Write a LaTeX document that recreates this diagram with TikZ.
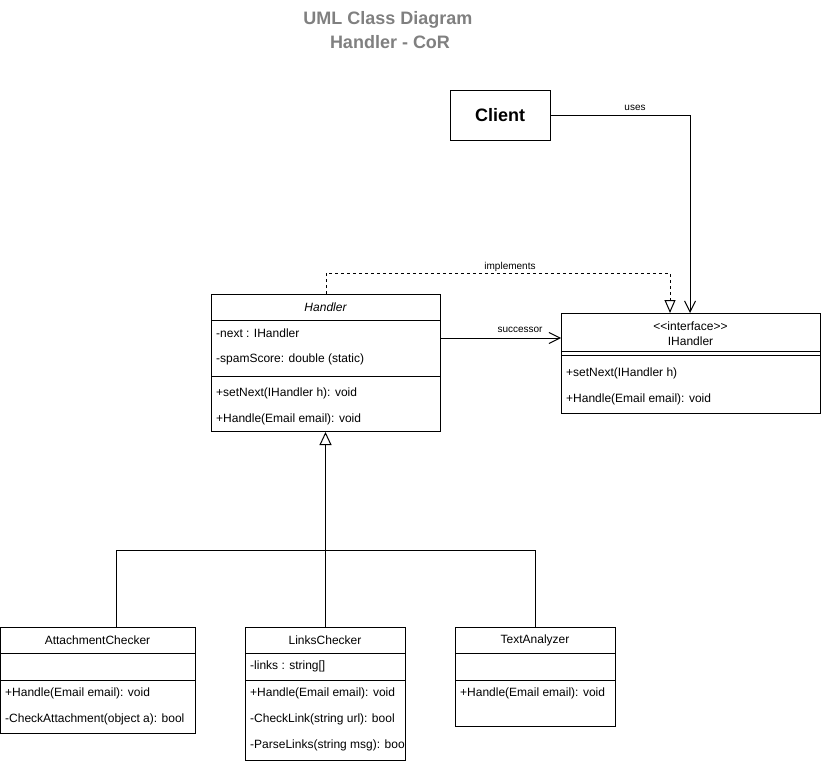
\documentclass[tikz,border=0pt]{standalone}
\usepackage{fontspec}
\setmainfont{Liberation Sans}
\usetikzlibrary{arrows.meta}
\definecolor{titlegray}{RGB}{128,128,128}
\begin{document}
\begin{tikzpicture}[x=1pt,y=-1pt,
  box/.style={draw=black, line width=1pt, fill=white, inner sep=0pt, anchor=north west},
  sepline/.style={draw=black, line width=1pt},
  member/.style={font=\fontsize{12}{14}\selectfont, anchor=west, inner sep=0pt},
  head/.style={font=\fontsize{12}{14}\selectfont, inner sep=0pt},
  lbl/.style={font=\fontsize{10}{12}\selectfont, inner sep=0pt},
  conn/.style={line width=1pt},
  opentri/.style={-{Triangle[open,length=13pt,width=11pt]}},
  openvee/.style={-{Straight Barb[length=11pt,width=11pt]}},
  ttl/.style={font=\bfseries\fontsize{18}{21}\selectfont, text=titlegray, inner sep=0pt}
]
\useasboundingbox (0,0) rectangle (821,762);
\fill[white] (0,0) rectangle (821,762);

% title
\node[ttl] (t1) at (388,20) {UML Class Diagram};
\node[ttl] (t2) at (390,42) {Handler - CoR};

% Client
\node[box, minimum width=100pt, minimum height=50pt] (client) at (450,90) {};
\node[font=\bfseries\fontsize{18}{21}\selectfont, inner sep=0pt] (clientt) at (500,115) {Client};

% Handler
\node[box, minimum width=229pt, minimum height=137pt] (handler) at (211,294) {};
\draw[sepline] (211,320) -- (440,320);
\draw[sepline] (211,376) -- (440,376);
\node[head, font=\itshape\fontsize{12}{14}\selectfont] (hname) at (325.5,307) {Handler};
\node[member] (h1) at (216,333.5) {-next : IHandler};
\node[member] (h2) at (216,359.5) {-spamScore: double (static)};
\node[member] (h3) at (216,393.5) {+setNext(IHandler h): void};
\node[member] (h4) at (216,419.5) {+Handle(Email email): void};

% IHandler
\node[box, minimum width=259pt, minimum height=100pt] (ihandler) at (561,313) {};
\draw[sepline] (561,351) -- (820,351);
\draw[sepline] (561,355) -- (820,355);
\node[head] (ih0) at (690.5,326) {{<}{<}interface{>}{>}};
\node[head] (ih1) at (690.5,341) {IHandler};
\node[member] (ih2) at (566,373.5) {+setNext(IHandler h)};
\node[member] (ih3) at (566,399.5) {+Handle(Email email): void};

% AttachmentChecker
\node[box, minimum width=195pt, minimum height=106pt] (ac) at (0,627) {};
\draw[sepline] (0,653) -- (195,653);
\draw[sepline] (0,680) -- (195,680);
\node[head] (acn) at (97.5,640.5) {AttachmentChecker};
\node[member] (ac1) at (5,693.5) {+Handle(Email email): void};
\node[member] (ac2) at (5,719.5) {-CheckAttachment(object a): bool};

% LinksChecker
\node[box, minimum width=160pt, minimum height=133pt] (lc) at (245,627) {};
\draw[sepline] (245,653) -- (405,653);
\draw[sepline] (245,680) -- (405,680);
\node[head] (lcn) at (325,640.5) {LinksChecker};
\node[member] (lc1) at (250,666.5) {-links : string[]};
\node[member] (lc2) at (250,693.5) {+Handle(Email email): void};
\node[member] (lc3) at (250,719.5) {-CheckLink(string url): bool};
\begin{scope}
\clip (245,733) rectangle (404,760);
\node[member] (lc4) at (250,745.5) {-ParseLinks(string msg): bool};
\end{scope}

% TextAnalyzer
\node[box, minimum width=160pt, minimum height=99pt] (ta) at (455,627) {};
\draw[sepline] (455,653) -- (615,653);
\draw[sepline] (455,680) -- (615,680);
\node[head] (tan) at (535,640.5) {TextAnalyzer};
\node[member] (ta1) at (460,693.5) {+Handle(Email email): void};

% connectors
\coordinate (usein) at (690,313);
\coordinate (implin) at (670,313);
\coordinate (succy) at (0,338);
\coordinate (acin) at (116,627);
\coordinate (joint) at (325,550);

\draw[conn, openvee] (client.east) -| (usein);
\node[lbl] (usesl) at (635,108) {uses};

\draw[conn, dashed, dash pattern=on 3pt off 3pt, opentri] (handler.north) -- ++(0,-21) -| (implin);
\node[lbl] (impll) at (510,267) {implements};

\draw[conn, openvee] (handler.east |- succy) -- (ihandler.west |- succy);
\node[lbl] (succl) at (520,330) {successor};

\draw[conn] (acin) |- (joint);
\draw[conn] (ta.north) |- (joint);
\draw[conn, -{Triangle[open,length=13pt,width=12pt]}] (lc.north) -- (lc.north |- handler.south);
\end{tikzpicture}
\end{document}
